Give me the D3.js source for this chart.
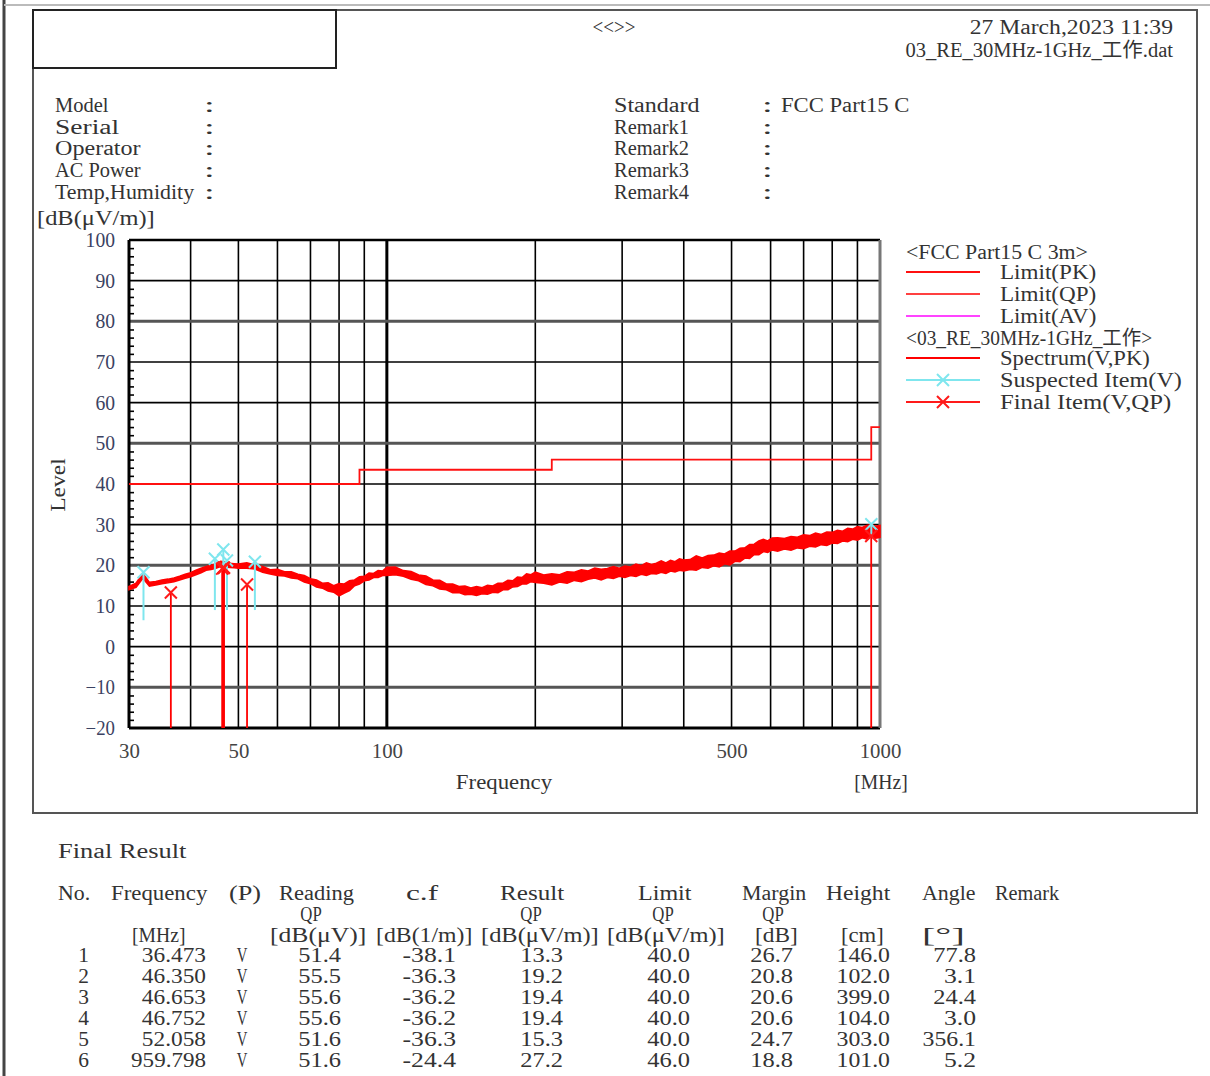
<!DOCTYPE html>
<html lang="en">
<head>
<meta charset="UTF-8">
<title>RE 30MHz-1GHz</title>
<script src="https://d3js.org/d3.v7.min.js"></script>
<style>
  body { margin: 0; background: #fff; }
  svg { display: block; }
  text { font-family: 'Liberation Serif', 'Noto Sans CJK SC', serif; font-size: 20px; }
</style>
</head>
<body>
<script>
// ---- data ----
const yTicks = [-20, -10, 0, 10, 20, 30, 40, 50, 60, 70, 80, 90, 100];
const yHeavy = [80, 50, 20, -10];
const yMinor = [-18,-16,-14,-12,-8,-6,-4,-2,2,4,6,8,12,14,16,18,22,24,26,28,32,34,36,38,42,44,46,48,52,54,56,58,62,64,66,68,72,74,76,78,82,84,86,88,92,94,96,98];
const xGrid = [40, 50, 60, 70, 80, 90, 100, 200, 300, 400, 500, 600, 700, 800, 900];
const xLabels = [30, 50, 100, 500, 1000];

// FCC Part15 C 3m limit (steps)
const limitFreq  = [30, 88, 88, 216, 216, 960, 960, 1000];
const limitLevel = [40, 40, 43.5, 43.5, 46, 46, 54, 54];

// spectrum (V, PK) : frequency with low / high edge of the noisy trace
const specFreq = [30,31,32,33,34,35,36,37,38,39,40,41,42,43,44,45,46,47,48,49,50,
  52,54,56,58,60,62,64,66,68,70,72,74,76,78,80,82,84,86,88,90,92,94,96,98,100,
  104,108,112,116,120,124,128,132,136,140,144,148,152,156,160,164,168,172,176,180,184,188,192,196,200,
  208,216,224,232,240,248,256,264,272,280,288,296,304,312,320,328,336,344,352,360,368,376,384,392,400,
  412,424,436,448,460,472,484,496,508,520,532,544,556,568,580,592,604,
  620,640,660,680,700,720,740,760,780,800,820,840,860,880,900,920,940,960,980,1000];
const specLo = [14.0,14.6,16.8,14.9,15.2,15.5,15.7,16.0,16.4,16.8,17.2,17.7,18.2,18.8,19.0,19.3,19.7,19.6,19.5,19.4,19.3,
  19.3,19.1,18.3,17.9,17.5,17.4,16.9,16.7,15.9,15.5,14.7,14.4,13.7,13.4,12.5,13.2,13.8,15.0,15.4,16.2,16.4,17.0,17.0,17.5,17.5,
  17.7,17.3,16.6,16.2,15.3,15.0,14.2,14.0,13.3,13.3,12.8,12.9,12.6,13.0,12.9,13.4,13.3,14.0,14.0,14.7,14.8,15.4,15.4,16.0,15.8,
  15.6,15.2,15.9,15.6,16.3,16.0,16.6,16.9,16.4,17.0,16.8,17.3,17.0,17.5,17.3,17.8,17.5,18.0,17.9,18.3,18.0,18.6,18.4,18.8,18.6,
  19.0,18.8,19.5,19.3,19.9,19.6,20.4,20.1,21.0,20.9,21.8,21.7,22.7,22.6,23.4,23.2,23.8,
  23.5,24.0,23.7,24.3,24.1,24.7,24.5,25.1,24.9,25.5,25.4,26.0,25.8,26.4,26.2,26.8,26.5,27.0,26.7,26.9];
const specHi = [14.8,15.6,18.0,15.8,16.0,16.4,16.6,16.9,17.3,17.8,18.2,18.8,19.3,19.7,20.0,20.3,21.0,20.9,20.5,20.4,20.3,
  20.6,20.1,19.7,18.9,19.0,18.4,18.4,17.8,17.5,16.7,16.4,15.6,15.7,15.0,15.5,15.4,16.2,16.4,17.2,17.3,18.1,18.0,18.7,18.6,19.5,
  19.6,18.7,18.5,17.6,17.4,16.4,16.3,15.4,15.4,14.8,14.9,14.4,14.8,14.5,15.1,14.9,15.6,15.6,16.3,16.2,17.1,17.0,17.9,17.7,18.3,
  17.6,17.9,17.7,18.4,18.3,18.9,18.6,19.3,19.0,19.2,19.7,19.3,19.8,19.6,20.3,19.9,20.6,20.2,20.5,21.1,20.6,21.2,20.9,21.6,21.3,
  21.4,22.3,21.8,22.4,22.5,23.0,22.8,23.5,23.5,24.2,24.3,25.1,25.2,26.0,26.4,26.0,26.7,
  26.8,26.6,27.1,26.9,27.5,27.3,27.9,27.6,28.2,28.1,28.6,28.4,29.1,28.9,29.5,29.3,29.8,30.0,29.6,29.8];

// suspected items (V)
const suspFreq   = [32.1, 44.8, 46.6, 47.4, 54.0, 960.3];
const suspLevel  = [18.3, 21.6, 23.9, 21.2, 20.9, 30.1];
const suspBottom = [6.5, 9.0, 9.5, 9.0, 9.0, 27.0];

// final result table
const finalNo      = [1, 2, 3, 4, 5, 6];
const finalFreq    = [36.473, 46.350, 46.653, 46.752, 52.058, 959.798];
const finalPol     = ["V", "V", "V", "V", "V", "V"];
const finalReading = [51.4, 55.5, 55.6, 55.6, 51.6, 51.6];
const finalCf      = [-38.1, -36.3, -36.2, -36.2, -36.3, -24.4];
const finalResult  = [13.3, 19.2, 19.4, 19.4, 15.3, 27.2];
const finalLimit   = [40.0, 40.0, 40.0, 40.0, 40.0, 46.0];
const finalMargin  = [26.7, 20.8, 20.6, 20.6, 24.7, 18.8];
const finalHeight  = [146.0, 102.0, 399.0, 104.0, 303.0, 101.0];
const finalAngle   = [77.8, 3.1, 24.4, 3.0, 356.1, 5.2];

const headerLeft  = ["Model", "Serial", "Operator", "AC Power", "Temp,Humidity"];
const headerRight = ["Standard", "Remark1", "Remark2", "Remark3", "Remark4"];

// ---- layout ----
const W = 1210, H = 1076;
const CW = 10.7;           // half-width character advance
const TXT = "#333";

const svg = d3.select("body").append("svg").attr("width", W).attr("height", H);

function units(s) {
  let n = 0;
  for (const ch of String(s)) n += ch.charCodeAt(0) > 0x7f ? 2 : 1;
  return n;
}
function txt(sel, x, y, s, anchor = "start", fill = TXT) {
  return sel.append("text")
    .attr("x", x).attr("y", y).attr("dy", "0.36em")
    .attr("text-anchor", anchor).attr("fill", fill)
    .attr("textLength", units(s) * CW).attr("lengthAdjust", "spacingAndGlyphs")
    .text(s);
}

// page edges and frames
svg.append("line").attr("x1", 4).attr("x2", 4).attr("y1", 0).attr("y2", H).attr("stroke", "#444").attr("stroke-width", 3);
svg.append("line").attr("x1", 4).attr("x2", W).attr("y1", 5).attr("y2", 5).attr("stroke", "#bbb").attr("stroke-width", 2);
svg.append("rect").attr("x", 33).attr("y", 10).attr("width", 1164).attr("height", 803)
  .attr("fill", "none").attr("stroke", "#555").attr("stroke-width", 2);
svg.append("rect").attr("x", 33).attr("y", 10).attr("width", 303).attr("height", 58)
  .attr("fill", "none").attr("stroke", "#222").attr("stroke-width", 2);

// header texts
txt(svg, 614, 27, "<<>>", "middle");
txt(svg, 1173, 27, "27 March,2023 11:39", "end");
txt(svg, 1173, 50, "03_RE_30MHz-1GHz_工作.dat", "end");
headerLeft.forEach((s, i) => {
  const yy = 105 + i * 21.6;
  txt(svg, 55, yy, s);
  txt(svg, 204, yy, ":");
});
headerRight.forEach((s, i) => {
  const yy = 105 + i * 21.6;
  txt(svg, 614, yy, s);
  txt(svg, 762, yy, ":");
});
txt(svg, 781, 105, "FCC Part15 C");
txt(svg, 37, 218, "[dB(μV/m)]");

// ---- chart ----
const x = d3.scaleLog().domain([30, 1000]).range([129, 880]);
const y = d3.scaleLinear().domain([-20, 100]).range([728, 240]);

const plot = svg.append("g");

// vertical grid
plot.selectAll(".vg").data(xGrid).join("line")
  .attr("x1", d => x(d)).attr("x2", d => x(d)).attr("y1", y(100)).attr("y2", y(-20))
  .attr("stroke", "#000").attr("stroke-width", d => d === 100 ? 3 : 1.6);

// horizontal grid
plot.selectAll(".hg").data(yTicks.filter(d => d > -20 && d < 100)).join("line")
  .attr("x1", x(30)).attr("x2", x(1000)).attr("y1", d => y(d)).attr("y2", d => y(d))
  .attr("stroke", d => yHeavy.includes(d) ? "#555" : "#000")
  .attr("stroke-width", d => yHeavy.includes(d) ? 3 : 1.6);

// frame of the plot
plot.append("line").attr("x1", x(30)).attr("x2", x(1000)).attr("y1", y(100)).attr("y2", y(100)).attr("stroke", "#000").attr("stroke-width", 2.5);
plot.append("line").attr("x1", x(30)).attr("x2", x(1000)).attr("y1", y(-20)).attr("y2", y(-20)).attr("stroke", "#000").attr("stroke-width", 3);
plot.append("line").attr("x1", x(30)).attr("x2", x(30)).attr("y1", y(100)).attr("y2", y(-20)).attr("stroke", "#000").attr("stroke-width", 3);
plot.append("line").attr("x1", x(1000)).attr("x2", x(1000)).attr("y1", y(100)).attr("y2", y(-20)).attr("stroke", "#777").attr("stroke-width", 3);

// minor ticks on the level axis
plot.append("g").attr("transform", `translate(${x(30)},0)`)
  .call(d3.axisRight(y).tickValues(yMinor).tickSize(5).tickFormat(""))
  .call(g => g.select(".domain").remove())
  .call(g => g.selectAll("line").attr("stroke", "#000").attr("stroke-width", 1.6));

// axis labels
plot.append("g").attr("transform", `translate(${x(30)},0)`)
  .call(d3.axisLeft(y).tickValues(yTicks).tickSize(0).tickPadding(14))
  .call(g => g.select(".domain").remove())
  .call(g => g.selectAll("text")
    .attr("font-family", "'Liberation Serif', serif").attr("font-size", 20).attr("fill", "#3b4262")
    .attr("textLength", d => String(d).length * 9.8).attr("lengthAdjust", "spacingAndGlyphs"));

plot.append("g").attr("transform", `translate(0,${y(-20)})`)
  .call(d3.axisBottom(x).tickValues(xLabels).tickFormat(d3.format("d")).tickSize(0).tickPadding(16))
  .call(g => g.select(".domain").remove())
  .call(g => g.selectAll("text")
    .attr("font-family", "'Liberation Serif', serif").attr("font-size", 20).attr("fill", "#444")
    .attr("textLength", d => String(d).length * 10.4).attr("lengthAdjust", "spacingAndGlyphs"));

txt(svg, 504, 782, "Frequency", "middle");
txt(svg, 881, 782, "[MHz]", "middle");
txt(svg, 0, 0, "Level", "middle").attr("transform", "translate(58,485) rotate(-90)");

// limit line
const limitPts = limitFreq.map((f, i) => [x(f), y(limitLevel[i])]);
plot.append("path").attr("d", d3.line()(limitPts))
  .attr("fill", "none").attr("stroke", "#ff1010").attr("stroke-width", 1.8);

// spectrum: filled band between the low and high edge of the trace
const specArea = d3.area()
  .x((d, i) => x(specFreq[i]))
  .y0((d, i) => y(specLo[i]))
  .y1((d, i) => y(specHi[i]));
plot.append("path").attr("d", specArea(specFreq))
  .attr("fill", "#ff0000").attr("stroke", "#ff0000").attr("stroke-width", 1.6).attr("stroke-linejoin", "miter");

// suspected items
const cyan = "#7fe6ee";
function cross(sel, cx, cy, r, color, w) {
  sel.append("path").attr("d", `M${cx - r},${cy - r}L${cx + r},${cy + r}M${cx - r},${cy + r}L${cx + r},${cy - r}`)
    .attr("stroke", color).attr("stroke-width", w).attr("fill", "none");
}
suspFreq.forEach((f, i) => {
  plot.append("line").attr("x1", x(f)).attr("x2", x(f)).attr("y1", y(suspLevel[i])).attr("y2", y(suspBottom[i]))
    .attr("stroke", cyan).attr("stroke-width", 2);
  cross(plot, x(f), y(suspLevel[i]), 6, cyan, 2);
});

// final items
finalFreq.forEach((f, i) => {
  plot.append("line").attr("x1", x(f)).attr("x2", x(f)).attr("y1", y(finalResult[i])).attr("y2", y(-20))
    .attr("stroke", "#ff0000").attr("stroke-width", 1.8);
  cross(plot, x(f), y(finalResult[i]), 6, "#ff1a1a", 2);
});

// ---- legend ----
const leg = svg.append("g");
const legY = [252, 272, 294, 316, 338, 358, 380, 402];
txt(leg, 906, legY[0], "<FCC Part15 C 3m>");
const legRows = [
  { y: legY[1], label: "Limit(PK)", color: "#ff1010" },
  { y: legY[2], label: "Limit(QP)", color: "#ff4040" },
  { y: legY[3], label: "Limit(AV)", color: "#ff44ff" },
  { y: legY[5], label: "Spectrum(V,PK)", color: "#ff0000" },
  { y: legY[6], label: "Suspected Item(V)", color: cyan, mark: true },
  { y: legY[7], label: "Final Item(V,QP)", color: "#ff1a1a", mark: true }
];
txt(leg, 906, legY[4], "<03_RE_30MHz-1GHz_工作>");
legRows.forEach(r => {
  leg.append("line").attr("x1", 906).attr("x2", 980).attr("y1", r.y).attr("y2", r.y)
    .attr("stroke", r.color).attr("stroke-width", 2);
  if (r.mark) cross(leg, 943, r.y, 6, r.color, 2);
  txt(leg, 1000, r.y, r.label);
});

// ---- final result table ----
const tb = svg.append("g");
txt(tb, 58, 851, "Final Result");
const heads = [["No.", 58], ["Frequency", 111], ["(P)", 229], ["Reading", 279], ["c.f", 406], ["Result", 500],
  ["Limit", 638], ["Margin", 742], ["Height", 826], ["Angle", 922], ["Remark", 995]];
heads.forEach(([s, hx]) => txt(tb, hx, 893, s));
[311, 531, 663, 773].forEach(cx => txt(tb, cx, 914, "QP", "middle"));
const unitsRow = [["[MHz]", 132], ["[dB(μV)]", 270], ["[dB(1/m)]", 376], ["[dB(μV/m)]", 481],
  ["[dB(μV/m)]", 607], ["[dB]", 755], ["[cm]", 841], ["[°]", 922]];
unitsRow.forEach(([s, ux]) => txt(tb, ux, 935, s));

const f1 = d3.format(".1f"), f3 = d3.format(".3f");
finalNo.forEach((n, i) => {
  const ry = 955 + i * 21;
  txt(tb, 89, ry, String(n), "end");
  txt(tb, 206, ry, f3(finalFreq[i]), "end");
  txt(tb, 242, ry, finalPol[i], "middle");
  txt(tb, 341, ry, f1(finalReading[i]), "end");
  txt(tb, 456, ry, f1(finalCf[i]).replace("−", "-"), "end");
  txt(tb, 563, ry, f1(finalResult[i]), "end");
  txt(tb, 690, ry, f1(finalLimit[i]), "end");
  txt(tb, 793, ry, f1(finalMargin[i]), "end");
  txt(tb, 890, ry, f1(finalHeight[i]), "end");
  txt(tb, 976, ry, f1(finalAngle[i]), "end");
});
</script>
</body>
</html>
